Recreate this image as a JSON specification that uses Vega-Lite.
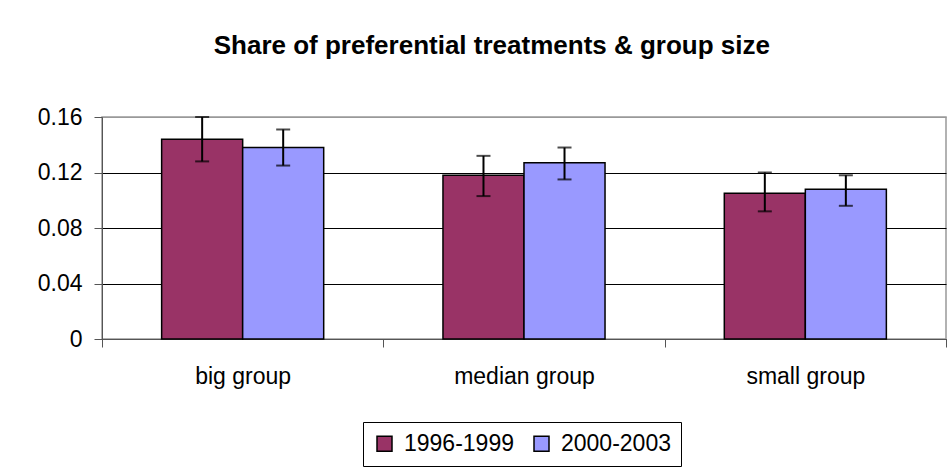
{
  "$schema": "https://vega.github.io/schema/vega-lite/v6.json",
  "description": "Share of preferential treatments by group size, two periods, with error bars",
  "width": 844,
  "height": 222,
  "autosize": {"type": "none"},
  "padding": {"left": 102, "top": 117, "right": 6, "bottom": 129},
  "background": "white",
  "title": {
    "text": "Share of preferential treatments & group size",
    "fontSize": 26,
    "fontWeight": "bold",
    "anchor": "middle",
    "frame": "bounds",
    "offset": 47,
    "color": "black"
  },
  "data": {
    "values": [
      {"group": "big group", "period": "1996-1999", "value": 0.144, "low": 0.128, "high": 0.160},
      {"group": "big group", "period": "2000-2003", "value": 0.138, "low": 0.125, "high": 0.151},
      {"group": "median group", "period": "1996-1999", "value": 0.118, "low": 0.103, "high": 0.132},
      {"group": "median group", "period": "2000-2003", "value": 0.127, "low": 0.115, "high": 0.138},
      {"group": "small group", "period": "1996-1999", "value": 0.105, "low": 0.092, "high": 0.120},
      {"group": "small group", "period": "2000-2003", "value": 0.108, "low": 0.096, "high": 0.118}
    ]
  },
  "encoding": {
    "x": {
      "field": "group",
      "type": "nominal",
      "sort": null,
      "scale": {"paddingInner": 0, "paddingOuter": 0},
      "axis": {
        "title": null,
        "labelAngle": 0,
        "tickBand": "extent",
        "tickSize": 8,
        "labelPadding": 18,
        "labelFontSize": 23,
        "labelColor": "black",
        "domainColor": "#555555",
        "tickColor": "#555555",
        "grid": false
      }
    },
    "xOffset": {
      "field": "period",
      "type": "nominal",
      "scale": {"paddingInner": 0, "paddingOuter": 0.736}
    }
  },
  "layer": [
    {
      "mark": {"type": "bar", "stroke": "black", "strokeWidth": 1.5},
      "encoding": {
        "y": {
          "field": "value",
          "type": "quantitative",
          "scale": {"domain": [0, 0.16], "nice": false},
          "axis": {
            "title": null,
            "values": [0, 0.04, 0.08, 0.12, 0.16],
            "format": ".2~f",
            "labelFontSize": 23,
            "labelColor": "black",
            "tickSize": 8,
            "labelPadding": 12,
            "domainColor": "#555555",
            "tickColor": "#555555",
            "gridColor": {"condition": {"test": "datum.value >= 0.16", "value": "#999999"}, "value": "black"},
            "grid": true
          }
        },
        "color": {
          "field": "period",
          "type": "nominal",
          "scale": {"range": ["#993366", "#9999FF"]},
          "legend": {
            "title": null,
            "orient": "none",
            "legendX": 261,
            "legendY": 305,
            "direction": "horizontal",
            "symbolType": "square",
            "symbolSize": 225,
            "symbolStrokeColor": "black",
            "symbolStrokeWidth": 1.5,
            "labelFontSize": 23,
            "labelColor": "black",
            "labelOffset": 8,
            "columnPadding": 16,
            "strokeColor": "black",
            "padding": 10
          }
        }
      }
    },
    {
      "mark": {"type": "rule", "color": "black", "strokeWidth": 2},
      "encoding": {
        "y": {"field": "low", "type": "quantitative"},
        "y2": {"field": "high"}
      }
    },
    {
      "mark": {"type": "tick", "color": "black", "size": 14, "thickness": 2, "orient": "horizontal"},
      "encoding": {
        "y": {"field": "low", "type": "quantitative"}
      }
    },
    {
      "mark": {"type": "tick", "color": "black", "size": 14, "thickness": 2, "orient": "horizontal"},
      "encoding": {
        "y": {"field": "high", "type": "quantitative"}
      }
    }
  ],
  "config": {
    "font": "Liberation Sans",
    "view": {"stroke": "#999999", "strokeWidth": 1.5}
  }
}
